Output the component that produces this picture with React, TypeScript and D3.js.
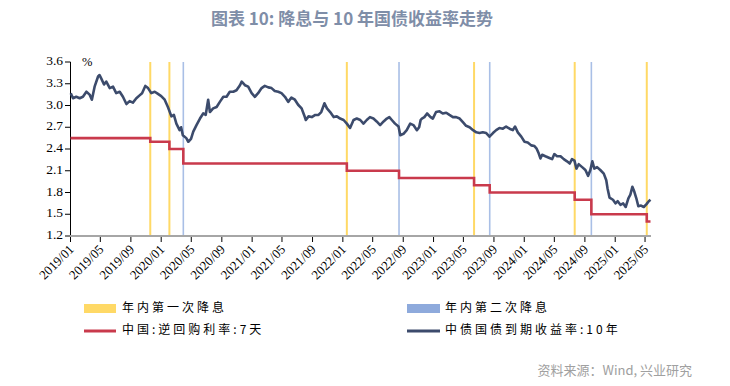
import React from "react";
import * as d3 from "d3";

// 7天逆回购利率（阶梯）
const rateDates = [
  "2019-01-01", "2019-11-18", "2020-02-03", "2020-03-30", "2022-01-17", "2022-08-15",
  "2023-06-13", "2023-08-15", "2024-07-22", "2024-09-27", "2025-05-08", "2025-05-23",
];
const rateValues = [2.55, 2.5, 2.4, 2.2, 2.1, 2.0, 1.9, 1.8, 1.7, 1.5, 1.4, 1.4];

// 年内第一次 / 第二次降息
const firstCuts = ["2019-11-18", "2020-02-03", "2022-01-17", "2023-06-13", "2024-07-22", "2025-05-08"];
const secondCuts = ["2020-03-30", "2022-08-15", "2023-08-15", "2024-09-27"];

// 中债国债到期收益率:10年
const yieldDates = [
  "2019-01-02", "2019-01-11", "2019-01-24", "2019-02-07", "2019-02-20", "2019-03-06", "2019-03-19", "2019-03-28",
  "2019-04-08", "2019-04-22", "2019-04-28", "2019-05-05", "2019-05-16", "2019-05-25", "2019-06-08", "2019-06-21",
  "2019-07-04", "2019-07-18", "2019-07-31", "2019-08-14", "2019-08-27", "2019-09-09", "2019-09-23", "2019-10-06",
  "2019-10-16", "2019-10-29", "2019-11-09", "2019-11-22", "2019-12-06", "2019-12-19", "2020-01-01", "2020-01-15",
  "2020-01-28", "2020-02-11", "2020-02-21", "2020-03-02", "2020-03-15", "2020-03-21", "2020-03-28", "2020-04-11",
  "2020-04-19", "2020-04-30", "2020-05-09", "2020-05-22", "2020-06-05", "2020-06-18", "2020-06-28", "2020-07-08",
  "2020-07-15", "2020-07-28", "2020-08-11", "2020-08-24", "2020-09-07", "2020-09-20", "2020-10-03", "2020-10-17",
  "2020-10-30", "2020-11-13", "2020-11-20", "2020-12-03", "2020-12-16", "2020-12-30", "2021-01-12", "2021-01-25",
  "2021-02-08", "2021-02-21", "2021-03-07", "2021-03-20", "2021-04-02", "2021-04-16", "2021-04-29", "2021-05-13",
  "2021-05-26", "2021-06-08", "2021-06-22", "2021-07-05", "2021-07-19", "2021-07-29", "2021-08-05", "2021-08-16",
  "2021-08-29", "2021-09-12", "2021-09-25", "2021-10-06", "2021-10-19", "2021-10-29", "2021-11-11", "2021-11-25",
  "2021-12-08", "2021-12-21", "2022-01-04", "2022-01-17", "2022-01-30", "2022-02-13", "2022-02-26", "2022-03-12",
  "2022-03-25", "2022-04-07", "2022-04-20", "2022-05-04", "2022-05-17", "2022-05-31", "2022-06-14", "2022-06-27",
  "2022-07-07", "2022-07-17", "2022-07-30", "2022-08-13", "2022-08-20", "2022-09-02", "2022-09-15", "2022-09-29",
  "2022-10-12", "2022-10-26", "2022-11-04", "2022-11-10", "2022-11-15", "2022-11-25", "2022-12-06", "2022-12-20",
  "2022-12-29", "2023-01-11", "2023-01-25", "2023-02-07", "2023-02-21", "2023-03-06", "2023-03-20", "2023-04-02",
  "2023-04-16", "2023-04-29", "2023-05-12", "2023-05-26", "2023-06-09", "2023-06-22", "2023-07-05", "2023-07-18",
  "2023-08-01", "2023-08-14", "2023-08-28", "2023-09-10", "2023-09-23", "2023-10-07", "2023-10-20", "2023-11-03",
  "2023-11-16", "2023-11-25", "2023-12-06", "2023-12-20", "2024-01-02", "2024-01-15", "2024-01-29", "2024-02-11",
  "2024-02-19", "2024-02-28", "2024-03-06", "2024-03-13", "2024-03-26", "2024-04-09", "2024-04-22", "2024-05-01",
  "2024-05-12", "2024-05-26", "2024-06-08", "2024-06-21", "2024-07-02", "2024-07-11", "2024-07-21", "2024-07-29",
  "2024-08-07", "2024-08-21", "2024-09-03", "2024-09-14", "2024-09-23", "2024-10-01", "2024-10-09", "2024-10-20",
  "2024-11-02", "2024-11-16", "2024-11-26", "2024-12-01", "2024-12-09", "2024-12-23", "2025-01-02", "2025-01-11",
  "2025-01-22", "2025-02-02", "2025-02-12", "2025-02-23", "2025-03-03", "2025-03-11", "2025-03-19", "2025-03-27",
  "2025-04-04", "2025-04-15", "2025-04-26", "2025-05-07", "2025-05-16", "2025-05-23",
];
const yieldValues = [
  3.17, 3.1, 3.12, 3.1, 3.12, 3.19, 3.15, 3.08,
  3.26, 3.4, 3.42, 3.37, 3.29, 3.33, 3.24, 3.26,
  3.17, 3.19, 3.12, 3.02, 3.06, 3.04, 3.1, 3.14,
  3.17, 3.27, 3.24, 3.17, 3.19, 3.16, 3.13, 3.08,
  2.98, 2.85, 2.87, 2.75, 2.66, 2.7, 2.59, 2.55,
  2.5, 2.54, 2.64, 2.73, 2.82, 2.89, 2.87, 3.08,
  2.91, 2.96, 2.98, 3.05, 3.12, 3.12, 3.19, 3.19,
  3.21, 3.28, 3.33, 3.28, 3.26, 3.17, 3.12, 3.17,
  3.24, 3.27, 3.25, 3.24, 3.2, 3.19, 3.17, 3.12,
  3.05, 3.11, 3.08, 3.01, 2.96, 2.87, 2.8, 2.85,
  2.84, 2.87, 2.87, 2.91, 3.03, 2.96, 2.91, 2.84,
  2.85, 2.82, 2.8, 2.75, 2.69, 2.8, 2.82, 2.8,
  2.75, 2.8, 2.84, 2.82, 2.78, 2.73, 2.78, 2.82,
  2.84, 2.8, 2.75, 2.71, 2.59, 2.61, 2.66, 2.75,
  2.73, 2.66, 2.7, 2.8, 2.82, 2.84, 2.89, 2.84,
  2.82, 2.91, 2.92, 2.89, 2.9, 2.87, 2.84, 2.84,
  2.82, 2.77, 2.72, 2.7, 2.66, 2.63, 2.62, 2.63,
  2.62, 2.57, 2.62, 2.66, 2.69, 2.68, 2.71, 2.68,
  2.66, 2.71, 2.63, 2.57, 2.5, 2.49, 2.45, 2.44,
  2.41, 2.34, 2.27, 2.32, 2.3, 2.28, 2.26, 2.33,
  2.3, 2.3, 2.26, 2.23, 2.2, 2.26, 2.24, 2.13,
  2.19, 2.15, 2.11, 2.03, 2.11, 2.23, 2.13, 2.15,
  2.11, 2.06, 1.97, 1.86, 1.73, 1.7, 1.65, 1.68,
  1.63, 1.65, 1.6, 1.72, 1.77, 1.88, 1.81, 1.72,
  1.61, 1.62, 1.6, 1.64, 1.68, 1.7,
];

const yTicks = [1.2, 1.5, 1.8, 2.1, 2.4, 2.7, 3.0, 3.3, 3.6];

const W = 730;
const H = 386;
const parse = d3.timeParse("%Y-%m-%d");
const serif = "'Liberation Serif', 'Times New Roman', serif";
const cjk = "'Noto Sans CJK SC', 'Noto Sans', sans-serif";

const C_YELLOW = "#ffd966";
const C_BLUE = "#a9bfe6";
const C_RED = "#c93a4c";
const C_NAVY = "#3c4b6c";

export default function App() {
  const x = d3
    .scaleTime()
    .domain([parse("2019-01-01")!, parse("2025-05-23")!])
    .range([70.5, 650.5]);
  const y = d3.scaleLinear().domain([1.2, 3.6]).range([236, 62]);

  const yieldData = yieldDates.map((d, i) => ({ t: parse(d)!, v: yieldValues[i] }));
  const rateData = rateDates.map((d, i) => ({ t: parse(d)!, v: rateValues[i] }));

  const yieldLine = d3
    .line<{ t: Date; v: number }>()
    .x((d) => x(d.t))
    .y((d) => y(d.v));
  const rateLine = d3
    .line<{ t: Date; v: number }>()
    .x((d) => x(d.t))
    .y((d) => y(d.v))
    .curve(d3.curveStepAfter);

  const xTicks = d3.timeMonth.every(4)!.range(parse("2019-01-01")!, parse("2025-05-02")!);
  const fmt = d3.timeFormat("%Y/%m");
  const [top, bottom] = y.range().slice().reverse();

  return (
    <svg
      width={W}
      height={H}
      style={{ position: "absolute", left: 0, top: 0, background: "#fff" }}
    >
      <text
        x={352}
        y={20}
        textAnchor="middle"
        dominantBaseline="middle"
        fontFamily={cjk}
        fontWeight="bold"
        fontSize={17}
        fill="#7f8ea8"
      >
        图表 10: 降息与 10 年国债收益率走势
      </text>

      {/* 降息竖线 */}
      {firstCuts.map((d) => (
        <line key={d} x1={x(parse(d)!)} x2={x(parse(d)!)} y1={top} y2={bottom} stroke={C_YELLOW} strokeWidth={2} />
      ))}
      {secondCuts.map((d) => (
        <line key={d} x1={x(parse(d)!)} x2={x(parse(d)!)} y1={top} y2={bottom} stroke={C_BLUE} strokeWidth={1.6} />
      ))}

      {/* y axis */}
      <line x1={70.5} x2={70.5} y1={top} y2={bottom} stroke="#000" strokeWidth={1} />
      {yTicks.map((t) => (
        <g key={t}>
          <line x1={65} x2={70.5} y1={y(t)} y2={y(t)} stroke="#000" />
          <text x={63} y={y(t)} textAnchor="end" dominantBaseline="middle" fontFamily={serif} fontSize={13.5}>
            {t.toFixed(1)}
          </text>
        </g>
      ))}
      <text x={82} y={66} fontFamily={serif} fontSize={12.5}>
        %
      </text>

      {/* lines */}
      <path d={rateLine(rateData) ?? ""} fill="none" stroke={C_RED} strokeWidth={2.6} />
      <path d={yieldLine(yieldData) ?? ""} fill="none" stroke={C_NAVY} strokeWidth={2.6} strokeLinejoin="round" />

      {/* x axis */}
      <line x1={70} x2={651} y1={bottom} y2={bottom} stroke="#a6a6a6" strokeWidth={2} />
      {xTicks.map((t) => {
        const px = x(t);
        return (
          <g key={+t}>
            <line x1={px} x2={px} y1={bottom + 1} y2={bottom + 6} stroke="#000" />
            <text
              transform={`translate(${px + 2},${bottom + 12}) rotate(-45)`}
              textAnchor="end"
              dominantBaseline="middle"
              fontFamily={serif}
              fontSize={13}
            >
              {fmt(t)}
            </text>
          </g>
        );
      })}

      {/* legend */}
      <rect x={84} y={304} width={32} height={9} fill={C_YELLOW} />
      <text x={122} y={309} dominantBaseline="middle" fontFamily={cjk} fontSize={12} letterSpacing={3}>
        年内第一次降息
      </text>
      <rect x={407} y={304} width={33} height={9} fill="#8eaadc" />
      <text x={445} y={309} dominantBaseline="middle" fontFamily={cjk} fontSize={12} letterSpacing={3}>
        年内第二次降息
      </text>
      <line x1={84} x2={116} y1={331} y2={331} stroke={C_RED} strokeWidth={3} />
      <text x={122} y={331} dominantBaseline="middle" fontFamily={cjk} fontSize={12} letterSpacing={3}>
        中国:逆回购利率:7天
      </text>
      <line x1={407} x2={440} y1={331} y2={331} stroke={C_NAVY} strokeWidth={3} />
      <text x={445} y={331} dominantBaseline="middle" fontFamily={cjk} fontSize={12} letterSpacing={3}>
        中债国债到期收益率:10年
      </text>

      <text x={692} y={371} textAnchor="end" dominantBaseline="middle" fontFamily={cjk} fontSize={13} fill="#a0a0a0">
        资料来源：Wind, 兴业研究
      </text>
    </svg>
  );
}
